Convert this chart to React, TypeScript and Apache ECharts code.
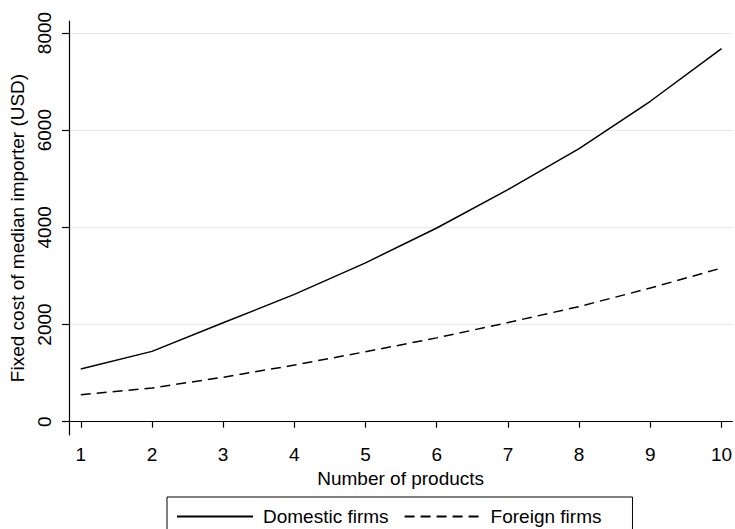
import React, { useEffect, useRef } from "react";
import * as echarts from "echarts";

const products = [1, 2, 3, 4, 5, 6, 7, 8, 9, 10];
const domestic = [1084, 1447, 2035, 2620, 3270, 3987, 4777, 5620, 6595, 7680];
const foreign = [555, 693, 915, 1165, 1440, 1725, 2040, 2370, 2750, 3163];
const yTicks = [0, 2000, 4000, 6000, 8000];
const xTicks = products;

const FONT = "Liberation Sans, Arial, Helvetica, sans-serif";
const FS = 19;

export default function App() {
  const ref = useRef<HTMLDivElement>(null);
  useEffect(() => {
    if (!ref.current) return;
    const chart = echarts.init(ref.current, null, { renderer: "svg" });
    chart.setOption({
      animation: false,
      backgroundColor: "#ffffff",
      textStyle: { fontFamily: FONT },
      grid: { left: 64, right: 0, top: 21, bottom: 94 },
      xAxis: {
        type: "value",
        min: 0.8333,
        max: 10.153,
        name: "Number of products",
        nameLocation: "middle",
        nameGap: 33,
        nameTextStyle: { fontSize: FS, color: "#000", fontFamily: FONT },
        axisLine: { show: true, lineStyle: { color: "#000", width: 1.2 } },
        axisTick: { show: true, length: 6, lineStyle: { color: "#000", width: 1.2 }, customValues: xTicks },
        axisLabel: { fontSize: FS, color: "#000", margin: 10, fontFamily: FONT, customValues: xTicks, formatter: (v: number) => String(v) },
        splitLine: { show: false },
      },
      yAxis: {
        type: "value",
        min: -274,
        max: 8247,
        name: "Fixed cost of median importer (USD)",
        nameLocation: "middle",
        nameGap: 35,
        nameTextStyle: { fontSize: FS, color: "#000", fontFamily: FONT },
        axisLine: { show: true, lineStyle: { color: "#000", width: 1.2 } },
        axisTick: { show: true, length: 7, lineStyle: { color: "#000", width: 1.2 }, customValues: yTicks },
        axisLabel: { fontSize: FS, color: "#000", margin: 15, rotate: 90, fontFamily: FONT, customValues: yTicks, formatter: (v: number) => String(v) },
        splitLine: { show: true, lineStyle: { color: "#e8e8e8", width: 1.2 } },
      },
      legend: {
        left: 167,
        top: 497,
        orient: "horizontal",
        borderColor: "#000",
        borderWidth: 1,
        padding: [10, 31, 10, 9],
        itemWidth: 76,
        itemHeight: 18,
        itemGap: 15,
        itemStyle: { opacity: 0 },
        textStyle: { fontSize: FS, color: "#000", fontFamily: FONT, padding: [0, 0, 0, 5] },
        data: ["Domestic firms", "Foreign firms"],
      },
      series: [
        {
          name: "Domestic firms",
          type: "line",
          symbol: "none",
          data: products.map((p, i) => [p, domestic[i]]),
          lineStyle: { color: "#000", width: 1.5, type: "solid" },
          itemStyle: { color: "#000" },
        },
        {
          name: "Foreign firms",
          type: "line",
          symbol: "none",
          data: products.map((p, i) => [p, foreign[i]]),
          lineStyle: { color: "#000", width: 1.5, type: [10, 6] },
          itemStyle: { color: "#000" },
        },
      ],
    });
    return () => chart.dispose();
  }, []);
  return <div ref={ref} style={{ width: 735, height: 529, position: "absolute", left: 0, top: 0 }} />;
}
